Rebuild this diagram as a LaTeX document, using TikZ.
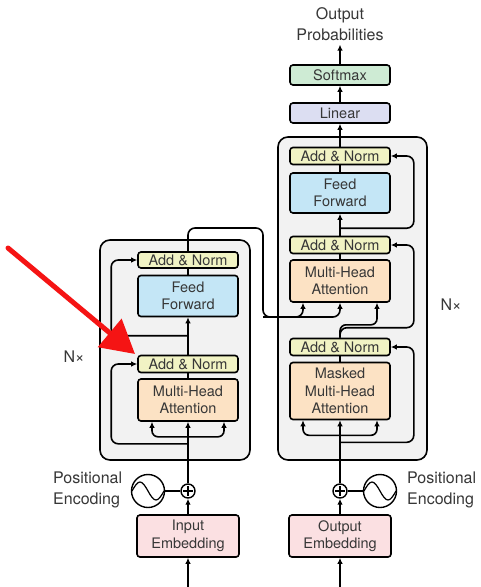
\documentclass[tikz,border=0pt]{standalone}
\usepackage{fontspec}
\setmainfont{TeX Gyre Heros}
\usetikzlibrary{arrows.meta,calc}
\definecolor{txt}{RGB}{55,55,55}
\definecolor{anc}{RGB}{241,243,196}
\definecolor{ffc}{RGB}{196,230,246}
\definecolor{mhc}{RGB}{252,226,196}
\definecolor{embc}{RGB}{251,224,226}
\definecolor{softc}{RGB}{206,235,212}
\definecolor{linc}{RGB}{220,222,242}
\definecolor{bgc}{RGB}{242,242,242}
\definecolor{redc}{RGB}{245,20,20}
\begin{document}
\begin{tikzpicture}[x=1pt,y=-1pt,
  blk/.style={draw=black, line width=1.6pt, rounded corners=3pt, minimum width=100pt, inner sep=0pt, align=center, text=txt, font=\fontsize{14.5}{17.5}\selectfont},
  outerbox/.style={draw=black, fill=bgc, line width=1.6pt, rounded corners=10pt},
  ln/.style={line width=1.6pt},
  arr/.style={line width=1.6pt, -{Latex[length=6pt,width=5.5pt]}},
  lbl/.style={text=txt, font=\fontsize{16}{21}\selectfont, align=left, inner sep=0pt},
  pluscirc/.style={draw=black, circle, line width=1.4pt, minimum size=14pt, inner sep=0pt, fill=white},
  sincirc/.style={draw=black, circle, line width=1.4pt, minimum size=33pt, inner sep=0pt, fill=white},
]
\useasboundingbox (0,0) rectangle (480,587);
\fill[white] (0,0) rectangle (480,587);

% stack frames
\draw[outerbox] (100,240) rectangle (250,460);
\draw[outerbox] (278,137) rectangle (427,460);

% encoder blocks
\node[blk, fill=anc, minimum height=16pt] (encAN2) at (188,260) {Add \& Norm};
\node[blk, fill=ffc, minimum height=41pt] (encFF) at (188,296) {Feed\\Forward};
\node[blk, fill=anc, minimum height=17pt] (encAN1) at (188,364) {Add \& Norm};
\node[blk, fill=mhc, minimum height=42pt] (encMHA) at (188,400) {Multi-Head\\Attention};
\node[blk, fill=embc, minimum width=102pt, minimum height=42pt] (inEmb) at (188,536) {Input\\Embedding};

% decoder blocks
\node[blk, fill=softc, minimum height=20pt] (soft) at (340,75) {Softmax};
\node[blk, fill=linc, minimum height=20pt] (lin) at (340,113) {Linear};
\node[blk, fill=anc, minimum height=17pt] (decAN3) at (340,156) {Add \& Norm};
\node[blk, fill=ffc, minimum height=40pt] (decFF) at (340,193) {Feed\\Forward};
\node[blk, fill=anc, minimum height=17pt] (decAN2) at (340,245) {Add \& Norm};
\node[blk, fill=mhc, minimum height=42pt] (decMHA) at (340,281) {Multi-Head\\Attention};
\node[blk, fill=anc, minimum height=17pt] (decAN1) at (340,347) {Add \& Norm};
\node[blk, fill=mhc, minimum height=57pt] (decMMHA) at (340,391) {Masked\\Multi-Head\\Attention};
\node[blk, fill=embc, minimum width=102pt, minimum height=42pt] (outEmb) at (340,536) {Output\\Embedding};

% text labels
\node[lbl, align=center, outer sep=4pt] (outP) at (340,24) {Output\\Probabilities};
\node[lbl, anchor=west] (peL) at (53,489.5) {Positional\\Encoding};
\node[lbl, anchor=west] (peR) at (407,489.5) {Positional\\Encoding};
\node[lbl] (nxL) at (74,357) {N×};
\node[lbl] (nxR) at (451,305) {N×};

% positional encoding symbols
\node[pluscirc] (encPlus) at (188,491) {};
\node[pluscirc] (decPlus) at (340,491) {};
\node[sincirc] (encSin) at (148,491) {};
\node[sincirc] (decSin) at (380,491) {};
\foreach \p in {encPlus,decPlus}{
  \draw[line width=1.2pt] ([xshift=-5pt]\p.center) -- ([xshift=5pt]\p.center);
  \draw[line width=1.2pt] ([yshift=-5pt]\p.center) -- ([yshift=5pt]\p.center);
}
\foreach \s in {encSin,decSin}{
  \draw[line width=1.2pt] ([xshift=-16pt]\s.center) sin ++(8,-9) cos ++(8,9) sin ++(8,9) cos ++(8,-9);
}
\draw[ln] (encSin.east) -- (encPlus.west);
\draw[ln] (decPlus.east) -- (decSin.west);

% inputs
\coordinate (inIn) at (188,587);
\coordinate (outIn) at (340,587);
\draw[arr] (inIn) -- (inEmb.south);
\draw[arr] (outIn) -- (outEmb.south);
\draw[arr] (inEmb.north) -- (encPlus.south);
\draw[arr] (outEmb.north) -- (decPlus.south);

% encoder connections
\draw[arr] (encPlus.north) -- (encMHA.south);
\draw[arr, rounded corners=6pt] ([yshift=-15pt]encMHA.south) -| ([xshift=-36pt]encMHA.south);
\draw[arr, rounded corners=6pt] ([yshift=-15pt]encMHA.south) -| ([xshift=36pt]encMHA.south);
\draw[arr, rounded corners=7pt] ([yshift=-22pt]encMHA.south) -| ([xshift=-26pt]encAN1.west) -- (encAN1.west);
\draw[ln] (encMHA.north) -- (encAN1.south);
\draw[arr] (encAN1.north) -- (encFF.south);
\draw[arr, rounded corners=7pt] ([yshift=19pt]encAN1.north) -| ([xshift=-26pt]encAN2.west) -- (encAN2.west);
\draw[ln] (encFF.north) -- (encAN2.south);

% encoder output to decoder
\coordinate (eo1) at (263,228);
\coordinate (eo2) at (263,317);
\draw[arr, rounded corners=7pt] (encAN2.north) |- (eo1) -- (eo2) -| ([xshift=-37pt]decMHA.south);
\draw[arr, rounded corners=7pt] (eo2) -| (decMHA.south);

% decoder connections
\draw[arr] (decPlus.north) -- (decMMHA.south);
\draw[arr, rounded corners=6pt] ([yshift=-15pt]decMMHA.south) -| ([xshift=-37pt]decMMHA.south);
\draw[arr, rounded corners=6pt] ([yshift=-15pt]decMMHA.south) -| ([xshift=37pt]decMMHA.south);
\draw[arr, rounded corners=7pt] ([yshift=-22pt]decMMHA.south) -| ([xshift=23pt]decAN1.east) -- (decAN1.east);
\draw[ln] (decMMHA.north) -- (decAN1.south);
\draw[arr, rounded corners=6pt] (decAN1.north) |- ([xshift=18pt,yshift=-22pt]decMHA.south) -| ([xshift=37pt]decMHA.south);
\draw[arr, rounded corners=7pt] (decAN1.north) -- ([yshift=10pt]decAN1.north) -| ([xshift=23pt]decAN2.east) -- (decAN2.east);
\draw[ln] (decMHA.north) -- (decAN2.south);
\draw[arr] (decAN2.north) -- (decFF.south);
\draw[arr, rounded corners=7pt] ([yshift=7.5pt]decAN2.north) -| ([xshift=23pt]decAN3.east) -- (decAN3.east);
\draw[ln] (decFF.north) -- (decAN3.south);
\draw[arr] (decAN3.north) -- (lin.south);
\draw[arr] (lin.north) -- (soft.south);
\draw[arr] (soft.north) -- (outP.south);

% red annotation arrow
\coordinate (raS) at (8,248);
\coordinate (raE) at (135,354);
\draw[redc, line width=5pt, line cap=round, -{Triangle[length=33pt,width=36pt]}] (raS) -- (raE);
\end{tikzpicture}
\end{document}
